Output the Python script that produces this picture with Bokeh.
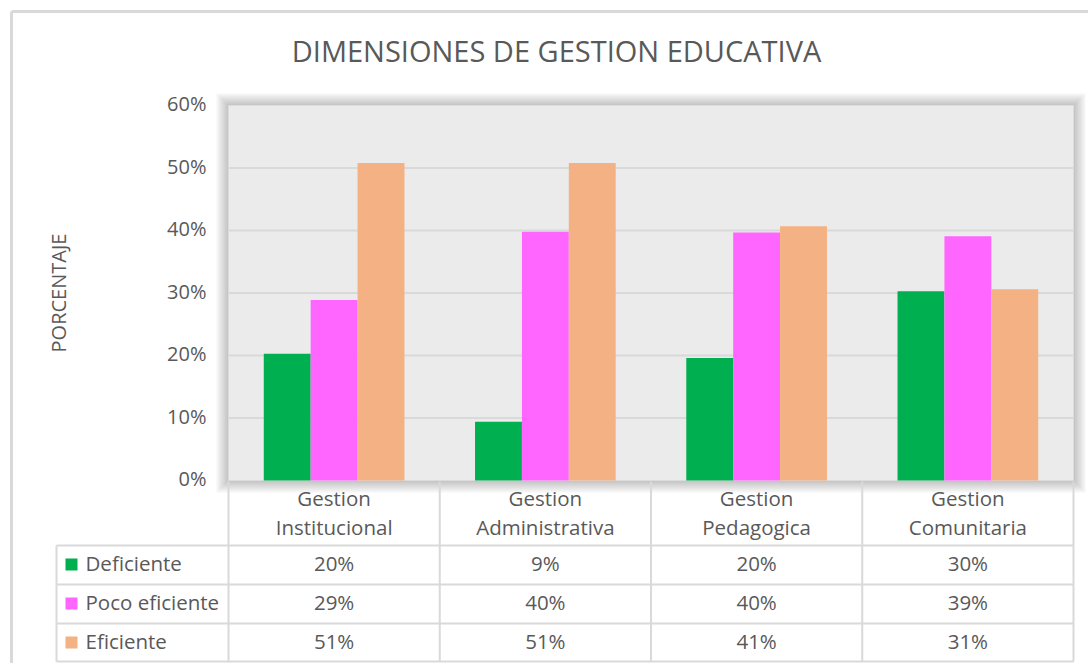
import math
from bokeh.plotting import figure
from bokeh.models import Range1d, ColumnDataSource
from bokeh.transform import dodge
from bokeh.embed import file_html
from bokeh.resources import INLINE
from bokeh.core.properties import value

# ---------------- data ----------------
categories = ["Gestion Institucional", "Gestion Administrativa", "Gestion Pedagogica", "Gestion Comunitaria"]
series_names = ["Deficiente", "Poco eficiente", "Eficiente"]
deficiente = [20.3, 9.4, 19.6, 30.3]
poco_eficiente = [28.9, 39.8, 39.7, 39.1]
eficiente = [50.8, 50.8, 40.7, 30.6]
y_ticks = [0, 10, 20, 30, 40, 50, 60]
title_text = "DIMENSIONES DE GESTION EDUCATIVA"
y_label = "PORCENTAJE"

# ---------------- style / layout ----------------
colors = ["#00B050", "#FF66FF", "#F4B183"]
TXT = "#595959"
FONT = value("Open Sans")
LINE = "#D9D9D9"
W, H = 1088, 663
X0, SX = 228, 211.25     # plot-area left px, px per category
Y0, SY = 480, 6.25       # plot-area bottom px, px per percent
DT = 2                   # text vertical nudge (px, upward)


def u(px):
    return (px - X0) / SX


def v(py):
    return (Y0 - py) / SY


n = len(categories)
ymax = y_ticks[-1]
xc = [i + 0.5 for i in range(n)]
series = [deficiente, poco_eficiente, eficiente]
src = ColumnDataSource(dict(x=xc, d=deficiente, p=poco_eficiente, e=eficiente))

p = figure(width=W, height=H, output_backend="svg", toolbar_location=None,
           x_range=Range1d(u(0), u(W)), y_range=Range1d(v(H), v(0)),
           x_axis_type=None, y_axis_type=None, min_border=0, title=None)
p.xgrid.visible = False
p.ygrid.visible = False
p.outline_line_color = None

# outer chart border (top and left visible)
p.segment(x0=[u(11), u(11)], x1=[u(W + 5), u(11)], y0=[v(11), v(11)], y1=[v(11), v(H + 5)],
          line_color=LINE, line_width=3)

# soft shadow around plot area
for k in range(1, 7):
    d = 2 * k
    p.quad(left=[-d / SX], right=[n + d / SX], bottom=[-d / SY], top=[ymax + d / SY],
           fill_color="black", fill_alpha=0.04, line_color=None)
# plot area
p.quad(left=[0], right=[n], bottom=[0], top=[ymax],
       fill_color="#EBEBEB", line_color="#DCDCDC", line_width=1)
# gridlines
gy = y_ticks[1:-1]
p.segment(x0=[0] * len(gy), x1=[n] * len(gy), y0=gy, y1=gy, line_color=LINE, line_width=2)

# bars
bw = 0.222
offs = [-bw, 0, bw]
for key, off, col in zip(["d", "p", "e"], offs, colors):
    p.vbar(x=dodge("x", off), top=key, width=bw, bottom=0, source=src,
           fill_color=col, line_color=None)

# y tick labels and axis title
p.text(x=[u(206)] * len(y_ticks), y=[t + DT / SY for t in y_ticks], text=[f"{t}%" for t in y_ticks],
       text_align="right", text_baseline="middle", text_font=FONT,
       text_font_size="20px", text_color=TXT)
p.text(x=[u(60 - DT)], y=[v(292.5)], text=[y_label], angle=math.pi / 2,
       text_align="center", text_baseline="middle", text_font=FONT,
       text_font_size="20px", text_color=TXT)

# title
p.text(x=[u(556)], y=[v(52 - DT)], text=[title_text], text_align="center", text_baseline="middle",
       text_font=FONT, text_font_size="29px", text_color=TXT)

# ---------------- data table ----------------
row_lines_px = [545, 584, 623, 661]
row_mid_px = [564, 603, 642]
tbl_left_px = 56
hy = [v(py) for py in row_lines_px]
p.segment(x0=[u(tbl_left_px)] * len(hy), x1=[n] * len(hy), y0=hy, y1=hy,
          line_color=LINE, line_width=2)
p.segment(x0=list(range(n + 1)), x1=list(range(n + 1)), y0=[v(481)] * (n + 1),
          y1=[hy[-1]] * (n + 1), line_color=LINE, line_width=2)
p.segment(x0=[u(tbl_left_px)], x1=[u(tbl_left_px)], y0=[hy[0]], y1=[hy[-1]],
          line_color=LINE, line_width=2)

# header (category labels, two lines)
first = [c.split(" ", 1)[0] for c in categories]
second = [c.split(" ", 1)[1] for c in categories]
p.text(x=xc, y=[v(499 - DT)] * n, text=first, text_align="center", text_baseline="middle",
       text_font=FONT, text_font_size="20.5px", text_color=TXT)
p.text(x=xc, y=[v(528 - DT)] * n, text=second, text_align="center", text_baseline="middle",
       text_font=FONT, text_font_size="20.5px", text_color=TXT)

# rows: legend keys, names, values
ry = [v(py) for py in row_mid_px]
ryt = [v(py - DT) for py in row_mid_px]
p.rect(x=[u(71)] * len(ry), y=ry, width=12, height=12,
       width_units="screen", height_units="screen", fill_color=colors, line_color=None)
p.text(x=[u(85)] * len(ry), y=ryt, text=series_names, text_align="left",
       text_baseline="middle", text_font=FONT, text_font_size="20.5px", text_color=TXT)
for r, vals in enumerate(series):
    p.text(x=xc, y=[ryt[r]] * n, text=[f"{round(val)}%" for val in vals],
           text_align="center", text_baseline="middle",
           text_font=FONT, text_font_size="20.5px", text_color=TXT)

open("out.html", "w").write(file_html(p, INLINE))
